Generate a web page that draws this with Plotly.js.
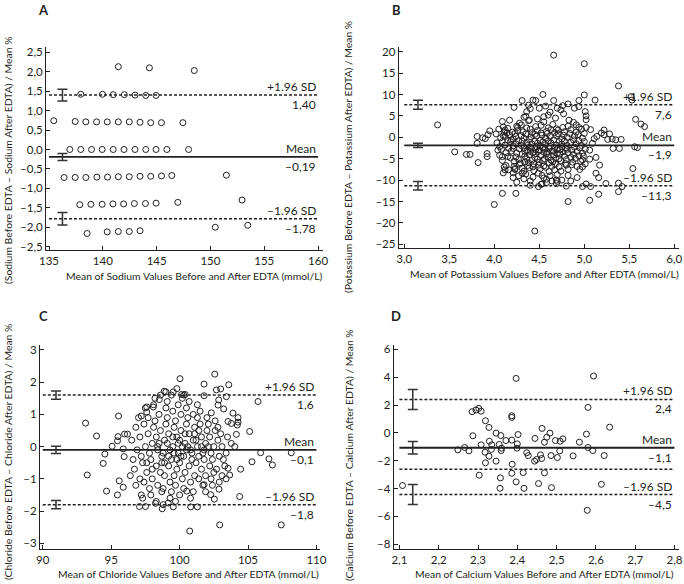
<!DOCTYPE html>
<html><head><meta charset="utf-8">
<script src="https://cdn.plot.ly/plotly-3.0.1.min.js"></script>
<style>html,body{margin:0;padding:0;background:#fff}#chart{width:684px;height:584px}</style>
</head><body><div id="chart"></div>
<script>
// ---------------- DATA ----------------
const sodiumPoints = [
 [141.44,2.13],[144.33,2.10],[148.5,2.03],
 [137.95,1.42],[139.97,1.42],[140.97,1.41],[142.0,1.41],[143.0,1.40],[143.99,1.39],[144.95,1.39],
 [135.44,0.74],[137.43,0.72],[138.42,0.71],[139.42,0.71],[140.41,0.71],[141.44,0.71],[142.46,0.71],[143.46,0.70],[144.45,0.69],[145.45,0.69],[147.44,0.69],
 [136.93,0],[137.95,0],[138.95,0],[139.94,0],[140.97,0],[141.97,0],[142.99,0],[143.99,0],[144.95,0],[145.95,0],[147.97,0],
 [136.4,-0.72],[137.43,-0.72],[138.42,-0.72],[139.45,-0.71],[140.44,-0.71],[141.44,-0.70],[142.46,-0.70],[143.46,-0.69],[144.45,-0.69],[145.45,-0.68],[146.41,-0.67],[151.48,-0.66],
 [137.86,-1.42],[138.89,-1.41],[139.94,-1.41],[140.94,-1.40],[141.93,-1.40],[142.93,-1.39],[143.96,-1.39],[144.95,-1.38],[146.97,-1.36],[152.94,-1.30],
 [138.54,-2.16],[140.41,-2.12],[141.44,-2.11],[142.46,-2.11],[143.46,-2.09],[150.45,-2.0],[153.47,-1.95]
];
const potassiumPoints = [
 [3.37,2.9],[3.56,-3.4],[3.69,-4.0],[3.73,-4.0],[3.82,-5.9],[3.81,0.2],[3.81,-1.4],[3.90,-0.3],[3.92,-3.8],[3.92,-4.5],[3.95,1.5],[3.87,-0.1],[3.93,0.6],
 [4.00,-15.7],[4.09,-13.1],[4.24,-13.1],[4.45,-21.9],[4.66,19.2],[5.00,17.2],[5.38,12.0],[5.52,9.5],[5.53,8.7],
 [4.31,8.6],[4.22,7.0],[4.46,8.6],[4.54,10.0],[4.66,8.6],[4.82,7.8],[4.94,8.6],[5.00,9.9],[5.12,8.7],[4.89,6.8],[5.01,6.0],[5.02,5.0],[5.02,4.1],[4.94,7.2],
 [4.74,6.4],[4.77,5.5],[4.83,4.0],[4.88,3.5],[5.57,4.2],[5.63,3.1],[5.67,2.5],[5.41,-0.5],[5.26,-0.5],[5.31,-0.4],[5.35,-0.6],[5.22,0.6],[5.28,0.8],
 [5.32,-2.6],[5.39,-2.6],[5.56,-2.2],[5.59,-2.4],[5.54,-7.3],[5.13,-4.7],[5.17,-6.5],[5.13,-8.4],[5.16,-9.4],[5.24,-10.8],[5.38,-10.7],[5.42,-11.5],[5.38,-12.7],
 [5.07,-11.5],[5.02,-10.9],[4.98,-11.5],[5.16,-13.3],[4.82,-15.0],[5.06,-14.7],[4.80,-11.4],[4.69,-10.8],[4.69,-10.0],[4.53,-10.9],[4.49,-11.5],
 [4.82,-8.9],[4.82,-7.5],[4.80,-6.5],[4.98,-5.3],[5.06,-5.1],[4.98,-6.9],[5.06,-3.0],[5.09,-1.4],[5.11,-0.3],[5.14,0.2],[5.19,1.0],[5.22,1.7],[4.94,2.3],[5.02,2.3],[5.07,1.8],
 [4.09,3.7],[4.12,1.7],[4.15,2.1],[4.17,4.0],[4.09,-4.5],[4.11,-6.9],[4.12,-7.6],[4.10,-8.3],[4.21,-8.3],[4.21,-9.4],[4.23,-7.3],[4.31,-8.4],[4.40,-10.2],
 [4.21,-2.6],[4.19,-0.6],[4.23,0.9],[4.26,2.3],[4.28,3.3],[4.33,4.7],[4.36,6.0],[4.38,7.5],[4.43,8.7],[4.39,4.0],
 [4.57,7.3],[4.62,5.9],[4.70,6.8],[4.76,7.4],[4.55,4.8],[4.50,6.8],[4.40,6.7],[4.35,4.9],[4.68,4.5],
 [4.25,-10.5],[4.33,-9.7],[4.52,-11.0],[4.58,-10.6],[4.62,-9.0],[4.70,-10.3],[4.75,-10.0],[4.40,-11.2],[4.85,-10.2],[4.92,-9.4],[4.55,-9.5],
 [4.03,-1.3],[4.02,0.8],[4.04,-3.0],
 [4.06,-2.2],[4.07,-0.1],[4.05,1.9],[4.06,-4.2],
 [4.09,-1.0],[4.10,0.4],[4.08,-2.8],[4.09,-5.4],[4.10,2.4],
 [4.12,-1.8],[4.13,-3.6],[4.12,0.2],[4.13,-6.6],[4.11,1.3],
 [4.15,-0.7],[4.16,-2.6],[4.15,-4.5],[4.14,1.0],[4.16,-7.6],
 [4.18,-1.0],[4.19,-3.2],[4.18,-4.8],[4.17,0.6],
 [4.21,-2.0],[4.22,-5.6],[4.20,1.2],[4.21,-0.4],[4.22,-6.8],
 [4.24,-1.5],[4.25,-3.7],[4.24,0.2],[4.23,-7.5],[4.25,2.6],[4.24,-4.6],
 [4.27,-0.8],[4.28,-2.7],[4.27,-5.2],[4.26,1.6],[4.28,-6.3],[4.27,-9.0],
 [4.30,-1.9],[4.31,-3.9],[4.30,0.4],[4.29,-6.0],[4.31,-7.2],[4.30,2.9],[4.31,-0.9],
 [4.33,-2.5],[4.34,-4.4],[4.33,-0.2],[4.32,1.3],[4.34,-5.8],[4.33,-7.9],[4.34,-3.3],
 [4.36,-1.2],[4.37,-3.0],[4.36,-5.0],[4.35,0.8],[4.37,-6.6],[4.36,2.2],[4.35,-8.6],[4.37,-1.9],
 [4.39,-0.5],[4.40,-2.3],[4.39,-4.1],[4.38,-5.9],[4.40,1.9],[4.39,-7.1],[4.40,-3.3],[4.38,3.9],
 [4.42,-1.6],[4.43,-3.6],[4.42,-5.3],[4.41,0.1],[4.43,-6.9],[4.42,1.1],[4.41,-2.6],[4.43,-9.3],
 [4.45,-0.9],[4.46,-2.9],[4.45,-4.7],[4.44,-6.2],[4.46,2.5],[4.45,0.7],[4.44,-7.8],[4.46,-3.8],
 [4.48,-1.4],[4.49,-3.3],[4.48,-5.1],[4.47,0.3],[4.49,-6.5],[4.48,1.6],[4.47,-2.2],[4.49,-8.4],[4.48,4.3],
 [4.51,-2.0],[4.52,-4.2],[4.51,-0.7],[4.50,-5.8],[4.52,1.0],[4.51,-7.3],[4.50,-3.0],[4.52,2.8],
 [4.54,-1.1],[4.55,-3.5],[4.54,-5.4],[4.53,0.5],[4.55,-6.7],[4.54,-2.4],[4.53,-8.9],[4.55,3.6],
 [4.57,-1.7],[4.58,-3.9],[4.57,-0.2],[4.56,-5.0],[4.58,1.4],[4.57,-7.0],[4.56,-2.8],[4.58,-9.8],
 [4.60,-0.8],[4.61,-2.6],[4.60,-4.6],[4.59,0.9],[4.61,-6.0],[4.60,2.2],[4.59,-3.5],[4.61,-8.0],[4.60,5.2],
 [4.63,-1.3],[4.64,-3.2],[4.63,-5.3],[4.62,0.2],[4.64,-6.8],[4.63,1.8],[4.62,-2.1],[4.64,-10.2],
 [4.66,-0.6],[4.67,-2.4],[4.66,-4.1],[4.65,-5.7],[4.67,1.1],[4.66,-3.3],[4.65,3.0],[4.67,-7.6],
 [4.69,-1.8],[4.70,-3.8],[4.69,0.4],[4.68,-6.3],[4.70,-2.7],[4.69,2.0],[4.68,-4.9],[4.70,-8.7],
 [4.72,-1.0],[4.73,-2.9],[4.72,-5.0],[4.71,0.8],[4.73,-3.9],[4.72,-6.9],[4.71,1.7],
 [4.75,-1.6],[4.76,-3.4],[4.75,-0.4],[4.74,-5.5],[4.76,2.3],[4.75,-2.2],[4.74,-7.9],
 [4.78,-0.9],[4.79,-2.6],[4.78,-4.4],[4.77,0.5],[4.79,-6.1],[4.78,1.3],
 [4.81,-1.9],[4.82,-3.6],[4.81,0.0],[4.80,-5.2],[4.82,2.6],[4.81,-2.8],
 [4.85,-1.2],[4.86,-3.0],[4.85,-4.7],[4.84,0.9],[4.86,-6.4],[4.85,1.8],
 [4.88,-0.6],[4.89,-2.3],[4.88,-4.0],[4.87,-5.8],[4.89,0.3],
 [4.91,-1.5],[4.92,-3.3],[4.91,1.2],[4.90,-4.9],[4.92,-6.8],[4.91,2.9],
 [4.94,-0.8],[4.95,-2.5],[4.94,-4.3],[4.93,0.6],[4.95,-7.5],
 [4.97,-1.9],[4.98,-3.7],[4.97,1.9],[4.96,-5.6],[4.98,-0.2],
 [5.00,-1.0],[5.01,-2.8],[5.00,0.9],[4.99,-4.4],[5.01,-6.2]
];
const chloridePoints = [
 [93.13,0.73],[93.93,0.33],[93.25,-0.88],[94.54,-0.23],[94.42,-0.52],[94.66,-1.38],[95.07,0.01],[95.54,0.95],[95.59,-1.06],[95.88,-1.26],[95.46,-1.5],
 [95.5,0.31],[95.46,0.18],[95.98,0.39],[96.19,0.39],[95.88,-0.07],[95.95,-0.31],[97.07,-1.86],[97.51,-1.86],[98.24,-1.76],[97.6,1.23],[97.2,0.95],
 [102.57,2.25],[101.79,1.94],[103.59,1.92],[103.0,1.79],[102.69,1.76],[103.42,1.55],[105.73,1.40],[102.86,1.45],[102.81,1.29],[102.32,1.05],[103.22,1.17],
 [103.9,1.04],[104.27,0.9],[104.27,0.76],[104.22,0.67],[103.54,0.78],[103.78,0.72],[105.12,0.47],[104.15,0.38],[103.78,0.1],[104.03,0.0],[105.92,-0.19],
 [105.29,-0.47],[106.53,-0.38],[106.78,-0.57],[108.16,-0.19],[104.46,-0.7],[103.66,-0.88],[103.54,-0.67],[104.39,-1.55],[102.93,-2.43],[100.74,-2.62],[107.43,-2.43],
 [100.03,2.11],[98.88,1.72],[99.54,1.70],[100.15,1.62],[100.4,1.62],[101.79,1.58],[98.52,1.46],[98.08,1.23],[97.6,1.07],
 [99.17,-1.75],[99.54,-1.87],[98.73,-1.93],[100.81,-1.87],[101.3,-1.87],[100.52,-1.38],[101.79,-1.18],[102.27,-1.49],[102.88,-1.32],[102.54,-1.63],
 [96.5,0.2],[96.6,-0.4],[96.4,-0.9],
 [96.8,0.6],[96.9,-0.1],[96.7,-0.7],[96.8,-1.2],
 [97.1,0.3],[97.2,-0.3],[97.0,0.9],[97.1,-1.0],[97.2,-1.5],
 [97.4,0.7],[97.5,0.0],[97.3,-0.5],[97.4,-1.1],[97.5,1.2],[97.3,-1.6],
 [97.7,0.4],[97.8,-0.2],[97.6,-0.8],[97.7,0.9],[97.8,-1.3],[97.6,-0.5],
 [98.0,0.1],[98.1,0.6],[97.9,-0.4],[98.0,-1.0],[98.1,1.3],[97.9,-1.5],[98.0,-0.7],
 [98.3,0.3],[98.4,-0.1],[98.2,0.8],[98.3,-0.6],[98.4,-1.2],[98.2,1.5],[98.3,-1.7],[98.4,0.0],
 [98.6,0.5],[98.7,-0.3],[98.5,1.0],[98.6,-0.8],[98.7,-1.4],[98.5,0.1],[98.6,1.6],[98.7,-0.5],
 [98.9,0.2],[99.0,0.7],[98.8,-0.2],[98.9,-0.9],[99.0,1.2],[98.8,-1.3],[98.9,-0.5],[99.0,1.7],[98.8,-1.8],
 [99.2,0.4],[99.3,-0.1],[99.1,0.9],[99.2,-0.6],[99.3,-1.1],[99.1,1.4],[99.2,-0.3],[99.3,-1.6],[99.1,0.1],
 [99.5,0.0],[99.6,0.6],[99.4,-0.4],[99.5,1.1],[99.6,-0.9],[99.4,-1.4],[99.5,0.3],[99.6,-0.2],[99.4,1.6],
 [99.8,0.3],[99.9,-0.2],[99.7,0.8],[99.8,-0.7],[99.9,1.3],[99.7,-1.2],[99.8,-0.4],[99.9,0.1],[99.7,-1.7],[99.8,1.8],
 [100.1,0.5],[100.2,0.0],[100.0,-0.5],[100.1,1.0],[100.2,-1.0],[100.0,0.2],[100.1,-0.3],[100.2,1.5],[100.0,-1.5],
 [100.4,0.1],[100.5,0.7],[100.3,-0.3],[100.4,-0.8],[100.5,1.2],[100.3,-1.3],[100.4,0.4],[100.5,-0.1],[100.3,1.6],
 [100.7,0.4],[100.8,-0.1],[100.6,0.9],[100.7,-0.6],[100.8,-1.1],[100.6,0.0],[100.7,1.4],[100.8,-1.6],
 [101.0,0.2],[101.1,0.6],[100.9,-0.4],[101.0,1.0],[101.1,-0.9],[100.9,-0.2],[101.0,-1.4],[101.1,0.4],
 [101.3,0.0],[101.4,0.5],[101.2,-0.5],[101.3,0.9],[101.4,-1.0],[101.2,0.2],[101.3,1.3],[101.4,-0.3],
 [101.6,0.3],[101.7,-0.2],[101.5,0.7],[101.6,-0.7],[101.7,-1.2],[101.5,1.1],[101.6,0.0],
 [101.9,0.1],[102.0,0.5],[101.8,-0.4],[101.9,-0.9],[102.0,0.9],[101.8,-0.1],[101.9,-1.4],
 [102.2,0.3],[102.3,-0.2],[102.1,0.7],[102.2,-0.6],[102.3,-1.0],[102.1,0.0],
 [102.5,0.0],[102.6,0.5],[102.4,-0.4],[102.5,-0.8],[102.6,0.8],[102.4,-1.2],
 [102.8,0.2],[102.9,-0.3],[102.7,-0.7],[102.8,0.6],[102.9,-1.1],
 [103.1,0.0],[103.2,-0.4],[103.0,0.4],[103.1,-0.9],
 [103.4,-0.2],[103.5,0.3],[103.3,-0.6],[103.4,-1.0]
];
const calciumPoints = [
 [2.108,-3.78],[2.397,3.91],[2.594,4.08],[2.285,1.52],[2.295,1.64],[2.302,1.76],[2.308,1.56],[2.580,1.83],[2.386,1.23],[2.386,1.11],
 [2.319,0.87],[2.328,0.39],[2.635,0.41],[2.287,-0.21],[2.346,-0.02],[2.358,-0.19],[2.402,-0.12],[2.463,0.32],[2.483,-0.02],[2.475,-0.31],
 [2.445,-0.40],[2.576,-0.09],[2.371,-0.55],[2.386,-0.52],[2.400,-0.79],[2.469,-0.67],[2.497,-0.55],[2.509,-0.60],[2.516,-0.43],[2.558,-0.67],
 [2.329,-0.60],[2.335,-0.86],[2.308,-0.86],[2.354,-0.83],[2.360,-1.10],[2.334,-1.19],[2.359,-1.27],[2.249,-1.22],[2.266,-1.05],[2.277,-1.29],
 [2.318,-1.39],[2.399,-1.10],[2.424,-1.43],[2.428,-1.63],[2.459,-1.58],[2.462,-1.84],[2.449,-1.91],[2.444,-2.03],[2.486,-1.63],[2.502,-1.77],
 [2.508,-1.29],[2.542,-1.65],[2.580,-1.05],[2.592,-1.27],[2.621,-1.63],[2.328,-1.67],[2.319,-2.15],[2.346,-2.03],[2.387,-2.25],[2.303,-3.04],
 [2.386,-2.90],[2.415,-2.85],[2.469,-2.87],[2.357,-3.23],[2.356,-3.98],[2.397,-3.52],[2.417,-3.98],[2.454,-3.64],[2.487,-3.93],[2.614,-3.69],[2.578,-5.56]
];

// limits: [upper, mean, lower] and CI half widths
const sodiumLimits = [1.40, -0.19, -1.78];
const sodiumCI = [0.15, 0.09, 0.16];
const sodiumLabels = ['1,40', '–0,19', '–1,78'];
const potassiumLimits = [7.6, -1.9, -11.3];
const potassiumCI = [1.05, 0.5, 1.0];
const potassiumLabels = ['7,6', '–1,9', '–11,3'];
const chlorideLimits = [1.6, -0.1, -1.8];
const chlorideCI = [0.13, 0.11, 0.13];
const chlorideLabels = ['1,6', '–0,1', '–1,8'];
const calciumLimits = [2.4, -1.07, -4.43];
const calciumCI = [0.72, 0.45, 0.72];
const calciumLabels = ['2,4', '–1,1', '–4,5'];
const calciumExtraLine = [-2.62];
const limitNames = ['+1.96 SD', 'Mean', '–1.96 SD'];

const sodiumXTicks = [135,140,145,150,155,160];
const sodiumXTickText = ['135','140','145','150','155','160'];
const sodiumYTicks = [2.5,2,1.5,1,0.5,0,-0.5,-1,-1.5,-2,-2.5];
const sodiumYTickText = ['2,5','2,0','1,5','1,0','0,5','0,0','–0,5','–1,0','–1,5','–2,0','–2,5'];
const potassiumXTicks = [3,3.5,4,4.5,5,5.5,6];
const potassiumXTickText = ['3,0','3,5','4,0','4,5','5,0','5,5','6,0'];
const potassiumYTicks = [20,15,10,5,0,-5,-10,-15,-20,-25];
const potassiumYTickText = ['20','15','10','5','0','–5','–10','–15','–20','–25'];
const chlorideXTicks = [90,95,100,105,110];
const chlorideXTickText = ['90','95','100','105','110'];
const chlorideYTicks = [3,2,1,0,-1,-2,-3];
const chlorideYTickText = ['3','2','1','0','–1','–2','–3'];
const calciumXTicks = [2.1,2.2,2.3,2.4,2.5,2.6,2.7,2.8];
const calciumXTickText = ['2,1','2,2','2,3','2,4','2,5','2,6','2,7','2,8'];
const calciumYTicks = [6,4,2,0,-2,-4,-6,-8];
const calciumYTickText = ['6','4','2','0','–2','–4','–6','–8'];

const panelLetters = ['A','B','C','D'];
const xTitles = [
 'Mean of Sodium Values Before and After EDTA (mmol/L)',
 'Mean of Potassium Values Before and After EDTA (mmol/L)',
 'Mean of Chloride Values Before and After EDTA (mmol/L)',
 'Mean of Calcium Values Before and After EDTA (mmol/L)'
];
const yTitles = [
 '(Sodium Before EDTA – Sodium After EDTA) / Mean %',
 '(Potassium Before EDTA – Potassium After EDTA) / Mean %',
 '(Chloride Before EDTA – Chloride After EDTA) / Mean %',
 '(Calcium Before EDTA – Calcium After EDTA) / Mean %'
];

// ---------------- LAYOUT / DRAWING ----------------
const W = 684, H = 584;
const INK = '#231f20';
const FONT = 'Lato, "Open Sans", sans-serif';
const px = v => v / W;
const py = v => 1 - v / H;

const panels = [
 {pts: sodiumPoints, lim: sodiumLimits, ci: sodiumCI, lab: sodiumLabels, xt: sodiumXTicks, xtt: sodiumXTickText, yt: sodiumYTicks, ytt: sodiumYTickText,
  dx: [46, 323], dy: [47, 250], xr: [134.72, 160.46], yr: [-2.585, 2.636], ciX: 136.25, lx: [135, 160], extra: [],
  letter: [43, 10], xTitle: [325, 276], yTitle: [8, 160]},
 {pts: potassiumPoints, lim: potassiumLimits, ci: potassiumCI, lab: potassiumLabels, xt: potassiumXTicks, xtt: potassiumXTickText, yt: potassiumYTicks, ytt: potassiumYTickText,
  dx: [398.7, 678.7], dy: [46.7, 248.3], xr: [2.938, 6.049], yr: [-25.93, 21.17], ciX: 3.152, lx: [3, 6], extra: [],
  letter: [396, 10], xTitle: [681, 274], yTitle: [348, 157]},
 {pts: chloridePoints, lim: chlorideLimits, ci: chlorideCI, lab: chlorideLabels, xt: chlorideXTicks, xtt: chlorideXTickText, yt: chlorideYTicks, ytt: chlorideYTickText,
  dx: [40, 320], dy: [344.7, 548.7], xr: [89.80, 110.26], yr: [-3.168, 3.164], ciX: 90.97, lx: [90, 110], extra: [],
  letter: [43, 316], xTitle: [321, 574], yTitle: [8, 452]},
 {pts: calciumPoints, lim: calciumLimits, ci: calciumCI, lab: calciumLabels, xt: calciumXTicks, xtt: calciumXTickText, yt: calciumYTicks, ytt: calciumYTickText,
  dx: [393.7, 678.7], dy: [344.7, 548.7], xr: [2.0855, 2.8107], yr: [-8.316, 6.33], ciX: 2.134, lx: [2.1, 2.8], extra: calciumExtraLine,
  letter: [396, 316], xTitle: [676, 574], yTitle: [349, 455]}
];

const traces = [];
const annotations = [];
const layout = {
  width: W, height: H, margin: {l: 0, r: 0, t: 0, b: 0},
  paper_bgcolor: '#fff', plot_bgcolor: '#fff', showlegend: false,
  font: {family: FONT, size: 11, color: INK},
  annotations: annotations
};

panels.forEach((p, i) => {
  const n = i === 0 ? '' : String(i + 1);
  const xa = 'x' + n, ya = 'y' + n;
  layout['xaxis' + n] = {
    domain: [px(p.dx[0]), px(p.dx[1])], range: p.xr, anchor: ya,
    showgrid: false, zeroline: false, showline: true, linecolor: INK, linewidth: 1,
    ticks: 'inside', ticklen: 4, tickwidth: 1, tickcolor: INK,
    tickmode: 'array', tickvals: p.xt, ticktext: p.xtt, tickfont: {size: 11.5, color: INK}
  };
  layout['yaxis' + n] = {
    domain: [py(p.dy[1]), py(p.dy[0])], range: p.yr, anchor: xa,
    showgrid: false, zeroline: false, showline: true, linecolor: INK, linewidth: 1,
    ticks: 'inside', ticklen: 4, tickwidth: 1, tickcolor: INK,
    tickmode: 'array', tickvals: p.yt, ticktext: p.ytt, tickfont: {size: 11.5, color: INK}
  };
  // limit lines
  p.lim.forEach((v, k) => {
    traces.push({type: 'scatter', mode: 'lines', x: p.lx, y: [v, v], xaxis: xa, yaxis: ya,
      line: {color: INK, width: k === 1 ? 1.8 : 1.5, dash: k === 1 ? 'solid' : '3px,2px'}, hoverinfo: 'skip'});
    annotations.push({xref: xa, yref: ya, x: p.lx[1], y: v, text: limitNames[k], showarrow: false,
      xanchor: 'right', yanchor: 'bottom', font: {size: 12, color: INK}, yshift: -1});
    annotations.push({xref: xa, yref: ya, x: p.lx[1], y: v, text: p.lab[k], showarrow: false,
      xanchor: 'right', yanchor: 'top', font: {size: 12, color: INK}, yshift: 0});
  });
  p.extra.forEach(v => {
    traces.push({type: 'scatter', mode: 'lines', x: p.lx, y: [v, v], xaxis: xa, yaxis: ya,
      line: {color: INK, width: 1.5, dash: '3px,2px'}, hoverinfo: 'skip'});
  });
  // confidence interval bars
  traces.push({type: 'scatter', mode: 'markers', x: p.lim.map(() => p.ciX), y: p.lim, xaxis: xa, yaxis: ya,
    marker: {size: 1, color: 'rgba(0,0,0,0)'},
    error_y: {type: 'data', array: p.ci, visible: true, color: '#333', thickness: 1.5, width: 5}, hoverinfo: 'skip'});
  // data points
  traces.push({type: 'scatter', mode: 'markers', x: p.pts.map(d => d[0]), y: p.pts.map(d => d[1]), xaxis: xa, yaxis: ya,
    marker: {symbol: 'circle-open', size: 6, color: INK, line: {width: 1, color: INK}}});
  // panel letter
  annotations.push({xref: 'paper', yref: 'paper', x: px(p.letter[0]), y: py(p.letter[1]), text: '<b>' + panelLetters[i] + '</b>',
    showarrow: false, xanchor: 'center', yanchor: 'middle', font: {size: 13, color: INK}});
  // axis titles
  annotations.push({xref: 'paper', yref: 'paper', x: px(p.xTitle[0]), y: py(p.xTitle[1]), text: xTitles[i],
    showarrow: false, xanchor: 'right', yanchor: 'middle', font: {size: 10.4, color: INK}});
  annotations.push({xref: 'paper', yref: 'paper', x: px(p.yTitle[0]), y: py(p.yTitle[1]), text: yTitles[i],
    showarrow: false, xanchor: 'center', yanchor: 'middle', textangle: -90, font: {size: 10.4, color: INK}});
});

Plotly.newPlot('chart', traces, layout, {staticPlot: true, displayModeBar: false});
</script></body></html>
